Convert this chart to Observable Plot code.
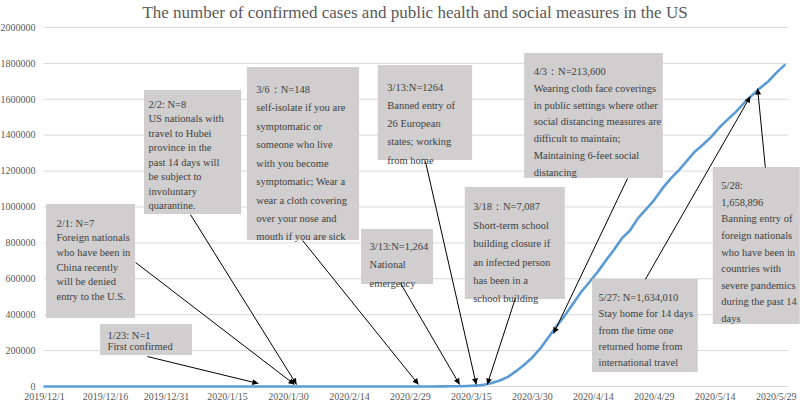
<!DOCTYPE html>
<html><head><meta charset="utf-8">
<script src="https://cdn.jsdelivr.net/npm/d3@7"></script>
<script src="https://cdn.jsdelivr.net/npm/@observablehq/plot@0.6"></script>
<style>
body{margin:0;background:#fff;}
#title{height:22px;line-height:26px;font-family:"Liberation Serif",serif;font-size:17px;color:#595959;text-align:center;padding-left:30px;width:770px;white-space:nowrap;}
</style></head><body>
<div id="title">The number of confirmed cases and public health and social measures in the US</div>
<div id="chart"></div>
<script>
// ---- data ----
const caseDates = ["2019-12-01","2020-01-21","2020-01-22","2020-02-01","2020-02-15","2020-03-01","2020-03-05","2020-03-08","2020-03-10","2020-03-12","2020-03-14","2020-03-16","2020-03-18","2020-03-20","2020-03-22","2020-03-24","2020-03-26","2020-03-28","2020-03-30","2020-04-01","2020-04-03","2020-04-05","2020-04-07","2020-04-09","2020-04-11","2020-04-13","2020-04-15","2020-04-17","2020-04-19","2020-04-21","2020-04-23","2020-04-25","2020-04-27","2020-04-29","2020-05-01","2020-05-03","2020-05-05","2020-05-07","2020-05-09","2020-05-11","2020-05-13","2020-05-15","2020-05-17","2020-05-19","2020-05-21","2020-05-23","2020-05-25","2020-05-27","2020-05-29","2020-05-31"];
const caseCounts = [0,0,1,8,15,75,217,537,994,1663,2727,4632,9197,19100,33272,53740,85356,121478,161807,213372,275586,337072,396223,461437,526396,580619,636350,699706,759086,825041,869170,938154,988197,1039909,1103461,1158040,1204351,1257023,1309550,1347881,1390406,1442824,1486757,1528568,1577147,1621658,1662302,1699176,1747087,1790191];

const xTickLabels = ["2019/12/1","2019/12/16","2019/12/31","2020/1/15","2020/1/30","2020/2/14","2020/2/29","2020/3/15","2020/3/30","2020/4/14","2020/4/29","2020/5/14","2020/5/29"];
const yTicks = [0,200000,400000,600000,800000,1000000,1200000,1400000,1600000,1800000,2000000];

const annTexts = [
  ["1/23: N=1","First confirmed"],
  ["2/1: N=7","Foreign nationals","who have been in","China recently","will be denied","entry to the U.S."],
  ["2/2: N=8","US nationals with","travel to Hubei","province in the","past 14 days will","be subject to","involuntary","quarantine."],
  ["3/6：N=148","self-isolate if you are","symptomatic or","someone who live","with you become","symptomatic; Wear a","wear a cloth covering","over your nose and","mouth if you are sick"],
  ["3/13:N=1264","Banned entry of","26 European","states; working","from home"],
  ["3/13:N=1,264","National","emergency"],
  ["3/18：N=7,087","Short-term school","building closure if","an infected person","has been in a","school building"],
  ["4/3：N=213,600","Wearing cloth face coverings","in public settings where other","social distancing measures are","difficult to maintain;","Maintaining 6-feet social","distancing"],
  ["5/27: N=1,634,010","Stay home for 14 days","from the time one","returned home from","international travel"],
  ["5/28:","1,658,896","Banning entry of","foreign nationals","who have been in","countries with","severe pandemics","during the past 14","days"]
];
// arrow tips: day offset from 2019-12-01 and value pointed at
const tipDays   = [52.6, 61.5, 62.0, 92.0, 106.2, 102.1, 108.9, 125.2, 173.6, 175.4];
const tipValues = [16700, 11000, 11000, 11000, 11000, 11000, 11000, 295000, 1616000, 1660000];

// ---- layout (in data space: day offsets and values) ----
const boxD1 = [13.8, 0.5, 24.6, 49.9, 82.1, 78.0, 103.5, 118.1, 134.8, 164.5];
const boxD2 = [36.4, 22.4, 48.5, 77.5, 105.3, 95.7, 128.1, 152.2, 160.8, 185.9];
const boxVTop = [345000, 1014000, 1649000, 1777000, 1788000, 875000, 1109000, 1855000, 596000, 1220000];
const boxVBot = [173000, 379000, 958000, 813000, 1259000, 568000, 485000, 1159000, 78000, 345000];
const textPadX = [7, 10, 4, 9, 9, 8, 8, 9, 6, 8];
const textPadY = [7, 12, 7, 12, 12, 7, 10, 10, 10, 10];
const lineHeights = [1.05, 1.39, 1.38, 1.76, 1.74, 1.76, 1.75, 1.59, 1.55, 1.58];
const tailDays   = [25.3, 22.4, 35.9, 63.5, 93.7, 87.6, 115.8, 143.4, 147.8, 177.3];
const tailValues = [167000, 691000, 958000, 813000, 1254000, 574000, 490000, 1159000, 597000, 1220000];

// ---- build ----
const t0 = Date.UTC(2019, 11, 1);
const day = n => new Date(t0 + n * 864e5);
const parse = s => { const [y,m,d] = s.split(/[-/]/).map(Number); return new Date(Date.UTC(y, m-1, d)); };
const cases = caseDates.map((d, i) => ({date: parse(d), count: caseCounts[i]}));
const xTicks = xTickLabels.map(parse);
const fmt = d => `${d.getUTCFullYear()}/${d.getUTCMonth()+1}/${d.getUTCDate()}`;

const boxes = annTexts.map((t, i) => ({x1: day(boxD1[i]), x2: day(boxD2[i]), y1: boxVBot[i], y2: boxVTop[i]}));
const arrows = annTexts.map((t, i) => ({x1: day(tailDays[i]), y1: tailValues[i], x2: day(tipDays[i]), y2: tipValues[i]}));

const serif = '"Liberation Serif", "Times New Roman", serif';
const marks = [
  Plot.ruleY(yTicks, {stroke: "#d9d9d9", strokeWidth: 1}),
  Plot.line(cases, {x: "date", y: "count", stroke: "#5b9bd5", strokeWidth: 2.6}),
  Plot.rect(boxes, {x1: "x1", x2: "x2", y1: "y1", y2: "y2", fill: "#d0cece"})
];
annTexts.forEach((t, i) => {
  marks.push(Plot.text([{x: day(boxD1[i]), y: boxVTop[i], t: t.join("\n")}], {
    x: "x", y: "y", text: "t", textAnchor: "start", lineAnchor: "top",
    dx: textPadX[i], dy: textPadY[i], lineHeight: lineHeights[i],
    fill: "#404040", fontSize: 10.5, fontFamily: serif
  }));
});
marks.push(Plot.link(arrows, {x1: "x1", y1: "y1", x2: "x2", y2: "y2", stroke: "#000", strokeWidth: 1}));

const chart = Plot.plot({
  width: 800, height: 381,
  marginTop: 5, marginBottom: 17, marginLeft: 44, marginRight: 12,
  style: {fontFamily: serif, fontSize: "10px", color: "#595959", background: "#fff"},
  x: {type: "utc", domain: [day(0), day(183)], ticks: xTicks, tickFormat: fmt, tickSize: 0, tickPadding: 6.5, label: null},
  y: {domain: [0, 2000000], ticks: yTicks, tickFormat: d3.format("d"), tickSize: 0, tickPadding: 9, label: null},
  marks
});
document.getElementById("chart").appendChild(chart);

// filled triangular arrowheads on the links
const ns = "http://www.w3.org/2000/svg";
const defs = document.createElementNS(ns, "defs");
const marker = document.createElementNS(ns, "marker");
marker.setAttribute("id", "ahead");
marker.setAttribute("viewBox", "0 0 10 10");
marker.setAttribute("refX", "10"); marker.setAttribute("refY", "5");
marker.setAttribute("markerWidth", "7"); marker.setAttribute("markerHeight", "6");
marker.setAttribute("markerUnits", "userSpaceOnUse");
marker.setAttribute("orient", "auto");
const mp = document.createElementNS(ns, "path");
mp.setAttribute("d", "M0,0L10,5L0,10Z"); mp.setAttribute("fill", "#000");
marker.appendChild(mp); defs.appendChild(marker);
chart.insertBefore(defs, chart.firstChild);
chart.querySelectorAll('g[aria-label="link"] path, g[aria-label="link"] line').forEach(p => p.setAttribute("marker-end", "url(#ahead)"));
</script>
</body></html>
